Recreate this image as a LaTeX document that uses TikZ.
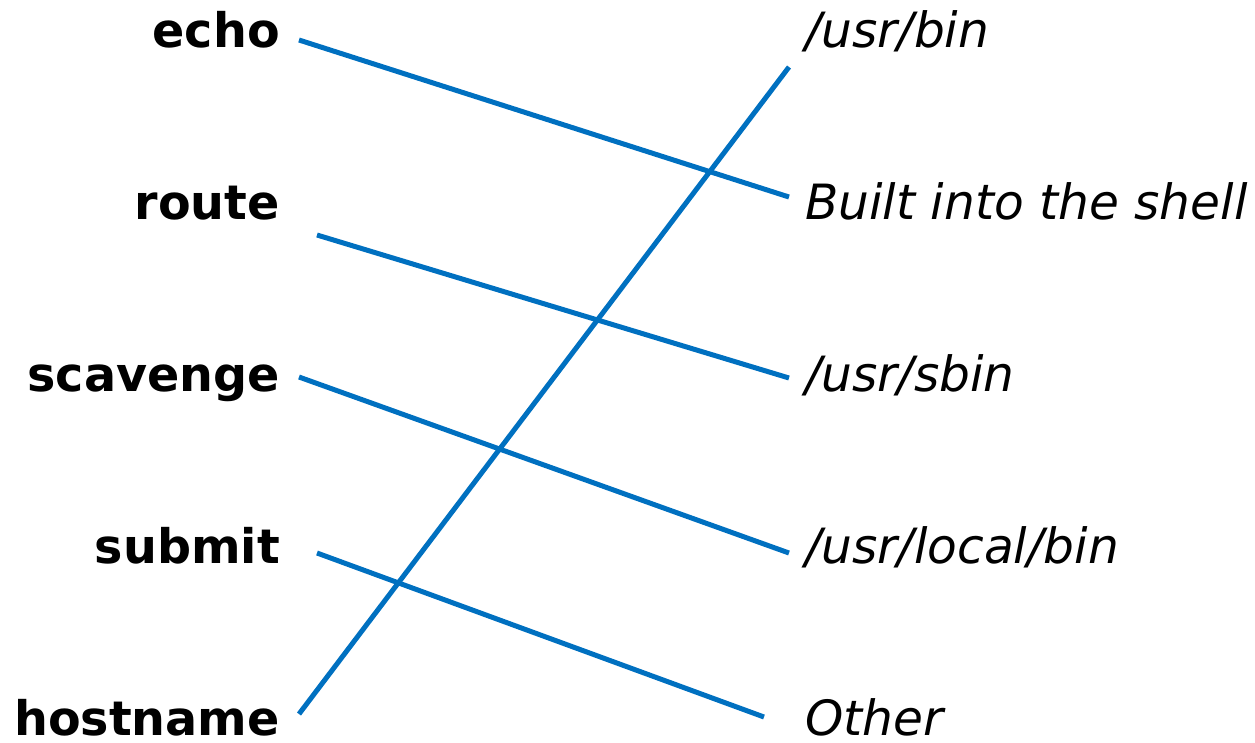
\documentclass[tikz,border=0pt]{standalone}
\usepackage{fontspec}
\setmainfont{DejaVu Sans}
\definecolor{linkblue}{HTML}{0070C0}
\begin{document}
\begin{tikzpicture}[x=1pt,y=-1pt,
  cmd/.style={anchor=base east,inner sep=0pt,font=\fontsize{47.6}{50}\selectfont\bfseries},
  place/.style={anchor=base west,inner sep=0pt,font=\fontsize{48.6}{50}\selectfont\itshape},
  link/.style={draw=linkblue,line width=5pt}]
\useasboundingbox (0,0) rectangle (1255,742);

% command names (left column)
\node[cmd] (echo)     at (280,47)  {echo};
\node[cmd] (route)    at (280,219) {route};
\node[cmd] (scavenge) at (280,391) {scavenge};
\node[cmd] (submit)   at (280,563) {submit};
\node[cmd] (hostname) at (280,735) {hostname};

% locations (right column)
\node[place] (bin)    at (805,47)  {/usr/bin};
\node[place] (shell)  at (805,219) {Built into the shell};
\node[place] (sbin)   at (805,391) {/usr/sbin};
\node[place] (local)  at (805,563) {/usr/local/bin};
\node[place] (other)  at (805,735) {Other};

% line end points
\coordinate (echoL)     at (299,40);
\coordinate (routeL)    at (317,235);
\coordinate (scavengeL) at (299,377);
\coordinate (submitL)   at (317,553);
\coordinate (hostnameL) at (299,714);
\coordinate (binR)      at (789,67);
\coordinate (shellR)    at (789,197);
\coordinate (sbinR)     at (789,378);
\coordinate (localR)    at (789,553);
\coordinate (otherR)    at (764,717);

% matching lines
\draw[link] (echoL) -- (shellR);
\draw[link] (routeL) -- (sbinR);
\draw[link] (scavengeL) -- (localR);
\draw[link] (submitL) -- (otherR);
\draw[link] (hostnameL) -- (binR);
\end{tikzpicture}
\end{document}
